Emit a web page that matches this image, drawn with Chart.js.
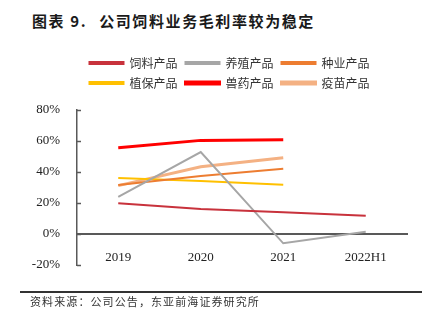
<!DOCTYPE html>
<html>
<head>
<meta charset="utf-8">
<script src="https://cdn.jsdelivr.net/npm/chart.js@4.4.0/dist/chart.umd.min.js"></script>
<style>
  body { margin: 0; background: #fff; }
  #page { position: relative; width: 430px; height: 325px; overflow: hidden; }
  .title {
    position: absolute; left: 32px; top: 10px;
    font: bold 15px "Noto Sans CJK SC", sans-serif; letter-spacing: 1.6px; color: #1a1a1a;
  }
  .title .num { margin-right: 12px; }
  .rule { position: absolute; left: 20px; top: 291px; width: 402px; height: 2px; background: #333; }
  .source {
    position: absolute; left: 30px; top: 293px;
    font: 11px "Noto Sans CJK SC", sans-serif; letter-spacing: 1.1px; color: #333;
  }
  #wrap { position: absolute; left: 0; top: 0; width: 430px; height: 325px; }
</style>
</head>
<body>
<div id="page">
  <div class="title"><span class="num">图表 9.</span>公司饲料业务毛利率较为稳定</div>
  <div id="wrap"><canvas id="myChart"></canvas></div>
  <div class="rule"></div>
  <div class="source">资料来源：公司公告，东亚前海证券研究所</div>
</div>
<script>
// 各业务毛利率（%）
const years = ["2019", "2020", "2021", "2022H1"];
const feed = [19.8, 16.1, 14.0, 11.8];       // 饲料产品
const breeding = [23.9, 52.9, -6.0, 1.5];    // 养殖产品
const seed = [31.6, 37.4, 42.1, null];       // 种业产品
const cropCare = [36.1, 34.2, 31.8, null];   // 植保产品
const vetDrug = [55.7, 60.4, 60.8, null];    // 兽药产品
const vaccine = [31.2, 43.4, 49.2, null];    // 疫苗产品
const yTicks = [-20, 0, 20, 40, 60, 80];

const axisColor = "#595959";
const serif = "'Liberation Serif', 'Times New Roman', serif";

function line(label, data, color, width) {
  return {
    label: label,
    data: data,
    borderColor: color,
    backgroundColor: color,
    borderWidth: width,
    pointRadius: 0,
    tension: 0,
  };
}

// 图例下方留空，并整体右移一点
const legendTweak = {
  id: "legendTweak",
  beforeInit(chart) {
    const fit = chart.legend.fit;
    chart.legend.fit = function () {
      fit.bind(chart.legend)();
      this.height += 11;
    };
  },
  afterLayout(chart) {
    chart.legend.left += 11;
    chart.legend.right += 11;
  },
};

// y 轴刻度线朝里画
const innerTicks = {
  id: "innerTicks",
  afterDraw(chart) {
    const y = chart.scales.y;
    const left = chart.chartArea.left;
    const c = chart.ctx;
    c.save();
    c.strokeStyle = axisColor;
    c.lineWidth = 1.5;
    yTicks.forEach((v) => {
      const py = Math.round(y.getPixelForValue(v)) + 0.5;
      c.beginPath();
      c.moveTo(left, py);
      c.lineTo(left + 4, py);
      c.stroke();
    });
    c.restore();
  },
};

const ctx = document.getElementById("myChart").getContext("2d");
const myChart = new Chart(ctx, {
  type: "line",
  data: {
    labels: years,
    datasets: [
      line("饲料产品", feed, "#C8323C", 2),
      line("养殖产品", breeding, "#A6A6A6", 2),
      line("种业产品", seed, "#ED7D31", 2),
      line("植保产品", cropCare, "#FFC000", 2),
      line("兽药产品", vetDrug, "#FF0000", 3),
      line("疫苗产品", vaccine, "#F4B183", 3),
    ],
  },
  options: {
    animation: false,
    responsive: true,
    maintainAspectRatio: false,
    layout: { padding: { top: 49, left: 30, right: 23, bottom: 60 } },
    plugins: {
      legend: {
        position: "top",
        labels: {
          boxWidth: 34,
          boxHeight: 2,
          padding: 8,
          color: "#333",
          font: { family: "'Noto Sans CJK SC', sans-serif", size: 12 },
        },
      },
      tooltip: { enabled: false },
    },
    scales: {
      x: {
        position: { y: 0 },
        offset: true,
        grid: { display: false },
        border: { display: true, color: axisColor, width: 2 },
        ticks: { color: "#222", font: { family: serif, size: 13 }, padding: 8 },
      },
      y: {
        min: -20,
        max: 80,
        afterBuildTicks(scale) {
          scale.ticks = yTicks.map((v) => ({ value: v }));
        },
        afterFit(scale) {
          scale.width = 47;
        },
        grid: { display: false },
        border: { display: true, color: axisColor, width: 1.5 },
        ticks: {
          color: "#222",
          font: { family: serif, size: 13 },
          padding: 9,
          callback: (v) => v + "%",
        },
      },
    },
  },
  plugins: [legendTweak, innerTicks],
});
</script>
</body>
</html>
